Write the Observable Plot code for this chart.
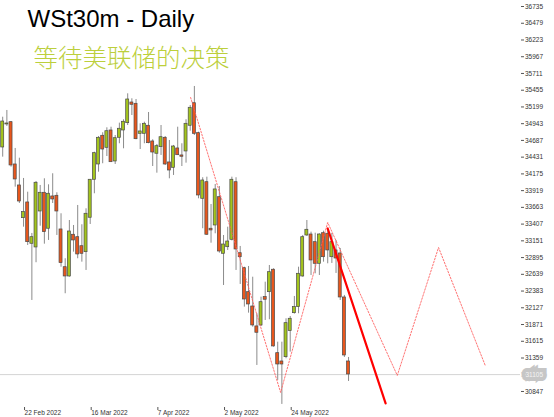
<!DOCTYPE html>
<html><head><meta charset="utf-8">
<script src="https://cdn.jsdelivr.net/npm/d3@7"></script>
<script src="https://cdn.jsdelivr.net/npm/@observablehq/plot@0.6"></script>
<style>body{margin:0;background:#fff;overflow:hidden}#chart{width:554px;height:417px}</style>
</head><body><div id="chart"></div>
<script>
// Daily OHLC, WSt30m, one value per trading day (bar 0 = 15 Feb 2022)
const opens  = [34579,34931,34966,34319,33998,33498,33738,33106,33050,33600,33886,33336,33830,33840,33325,32748,32606,33244,33207,33069,32978,33504,34085,34319,34758,34574,34839,34365,34727,34839,34951,35267,35247,34788,34788,34911,34671,34483,34584,34727,34350,34268,34564,34457,34518,34911,35256,34798,33794,34048,33336,33386,33819,32953,33054,33167,34048,32962,32733,32366,32147,31842,31857,32290,32366,32709,31433,31306,31372,31770,32045,32137,32606,33233,33248,33131,32800,33268,33259,32901,33004,32958,32285,31306];
const highs  = [35042,35145,34976,34564,34415,34105,33895,33264,34059,33998,34100,34008,34177,33886,33565,32877,33462,33386,33692,33397,33641,34090,34507,34747,34804,34880,34889,34762,34951,35003,35400,35324,35313,34941,34966,35114,34697,34625,34915,34747,34686,34610,34889,34636,35003,35221,35512,34813,34116,34125,33707,34013,33982,33233,33360,34125,34116,33065,32748,32759,32595,32036,32290,32519,32774,32724,31601,31601,31959,31994,32300,32748,33233,33462,33284,33268,33259,33299,33310,33264,33157,33034,32316,31367];
const lows   = [34431,34900,34278,33972,33722,33360,33080,32239,32816,33375,33100,33157,33722,33233,32748,32342,32595,32978,32877,32825,32698,33401,33871,34201,34330,34441,34350,34319,34636,34559,34915,35068,34697,34548,34636,34636,34288,34186,34457,34304,34100,34151,34457,34288,34339,34828,34762,33794,33336,33233,33115,33259,32962,32468,33004,33150,32698,32484,32137,32045,31831,31245,31840,31933,31944,31525,31016,30649,31348,31449,32030,32036,32595,33218,32621,32647,32621,32825,32800,32805,32652,32239,31367,31000];
const closes = [34976,34946,34304,34090,33753,33590,33131,33207,34039,33886,33284,33871,33784,33600,32810,32606,33294,33157,32943,32953,33565,34085,34492,34727,34548,34828,34354,34721,34865,34972,35313,35232,34706,34824,34941,34645,34502,34599,34736,34319,34227,34594,34461,34437,34941,35186,34788,33845,34074,33244,33310,33937,32988,33095,33141,34085,33019,32901,32254,32178,31857,31745,32213,32250,32672,31536,31260,31260,31892,31959,32137,32647,33207,33320,32851,32800,33248,32901,33004,33131,32881,32285,31398,31107];

// date axis: bar positions and labels
const dateTickBars   = [5, 21, 37, 53, 69];
const dateTickLabels = ["22 Feb 2022", "16 Mar 2022", "7 Apr 2022", "2 May 2022", "24 May 2022"];

// price axis labels
const priceTicks = [36735,36479,36223,35967,35711,35455,35199,34943,34687,34431,34175,33919,33663,33407,33151,32895,32639,32383,32127,31871,31615,31359,30847];
const currentPrice = 31105;

// dotted zigzag projection (bar offset, price)
const zigzagBars   = [45.1, 66.7, 78.0, 94.7, 104.6, 115.9];
const zigzagPrices = [35343, 30832, 33432, 31092, 33049, 31230];
// solid red trend line
const trendBars   = [78.0, 91.9];
const trendPrices = [33340, 30664];

const title = "WSt30m - Daily";
const subtitle = "等待美联储的决策";

const candles = opens.map((o, i) => ({i, open: o, high: highs[i], low: lows[i], close: closes[i], up: closes[i] >= o}));
const zigzag = zigzagBars.map((b, k) => ({b, p: zigzagPrices[k]}));
const trend = trendBars.map((b, k) => ({b, p: trendPrices[k]}));

const bullFill = "#a3c41c", bearFill = "#e8561c";

const chart = Plot.plot({
  width: 554, height: 417,
  marginLeft: 0, marginRight: 34, marginTop: 0, marginBottom: 10,
  style: {background: "#fff", fontFamily: "'Liberation Sans', Arial, sans-serif", overflow: "visible"},
  x: {domain: [-0.528, 124.27]},
  y: {domain: [30602, 36827]},
  marks: [
    Plot.ruleY([currentPrice], {stroke: "#d4d4d4", strokeWidth: 1}),
    Plot.ruleX(candles, {x: "i", y1: "low", y2: "high", stroke: "#8c8c8c", strokeWidth: 1}),
    Plot.rect(candles, {
      x1: d => d.i - 0.36, x2: d => d.i + 0.36,
      y1: "open", y2: "close",
      fill: d => d.up ? bullFill : bearFill,
      stroke: "#4a4a4a", strokeWidth: 0.7
    }),
    Plot.line(zigzag, {x: "b", y: "p", stroke: "#ff5a5a", strokeWidth: 1, strokeDasharray: "1.6,1.6", strokeOpacity: 0.85}),
    Plot.line(trend, {x: "b", y: "p", stroke: "#ff0000", strokeWidth: 2.2}),
    Plot.axisY({anchor: "right", ticks: priceTicks, tickSize: 3, tickPadding: 1.5, fontSize: 6.5, tickFormat: d => String(d), line: true, stroke: "#555", fill: "#333", label: null}),
    Plot.axisX({anchor: "bottom", ticks: dateTickBars, tickSize: 3, tickPadding: 0, fontSize: 6.5, textAnchor: "start", dx: 1, tickFormat: d => dateTickLabels[dateTickBars.indexOf(d)], line: true, stroke: "#555", fill: "#333", label: null}),
    Plot.text([String(currentPrice)], {y: () => currentPrice, frameAnchor: "right", dx: 5, textAnchor: "start", fontSize: 6.5, fill: "#f4f4f4", stroke: "#c6c6c6", strokeWidth: 8, strokeLinejoin: "miter"}),
    Plot.text([title], {frameAnchor: "top-left", dx: 27, dy: 19, textAnchor: "start", lineAnchor: "middle", fontSize: 24, fill: "#000"}),
    Plot.text([subtitle], {frameAnchor: "top-left", dx: 33, dy: 59, textAnchor: "start", lineAnchor: "middle", fontSize: 24.5, fill: "#bccf3c", fontFamily: "'Noto Sans CJK SC', sans-serif", fontWeight: 300})
  ]
});
document.getElementById("chart").append(chart);
</script></body></html>
